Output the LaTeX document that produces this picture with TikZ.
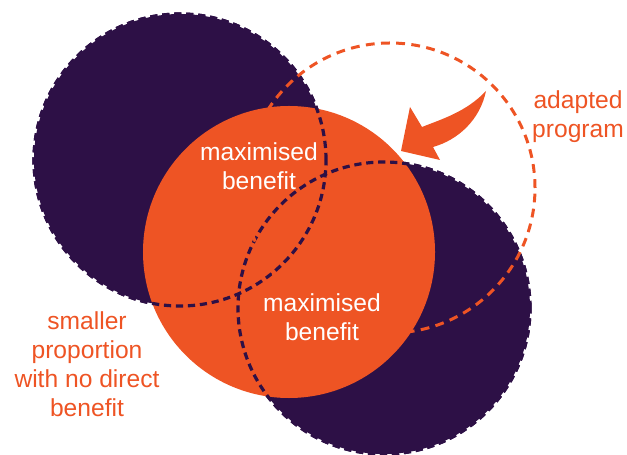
\documentclass[tikz,border=0pt]{standalone}
\usepackage{fontspec}
\setmainfont{Liberation Sans}
\definecolor{plum}{HTML}{2D1046}
\definecolor{ember}{HTML}{EE5424}
\tikzset{
    darkdisc/.style = {circle, inner sep=0pt, outer sep=0pt, minimum size=73mm, fill=plum, draw=plum, line width=0.8mm, dash pattern=on 1.8mm off 1.2mm},
    orangedisc/.style = {circle, inner sep=0pt, outer sep=0pt, minimum size=73mm, fill=ember},
    rim/.style = {draw=plum, line width=0.8mm, dash pattern=on 1.8mm off 1.2mm}, % edges seen over the orange
    planrim/.style = {draw=ember, line width=0.75mm, dash pattern=on 2.2mm off 1.6mm},
    intext/.style = {align=center, text=white, font=\fontsize{17.5}{20.5}\selectfont},
    outtext/.style = {align=center, text=ember, font=\fontsize{17.5}{20.5}\selectfont}
}

\begin{document}
\begin{tikzpicture}[x=0.25mm, y=-0.25mm]
  \useasboundingbox (0,0) rectangle (627,455);

  \node[darkdisc] (upper) at (180,160) {};
  \node[darkdisc] (lower) at (384,308) {};
  \node[orangedisc] (core) at (289,252) {};
  \coordinate (adapted) at (390,188);

  \draw[rim] (upper.center) circle[radius=36.5mm];
  \draw[rim] (lower.center) circle[radius=36.5mm];
  \draw[planrim] (adapted) circle[radius=36.25mm];

  % curved arrow into the orange disc
  \fill[ember] (486,91) .. controls (466,112) and (442,119) .. (422,127)
    -- (410,107) -- (401,151) -- (440,160) -- (433,147)
    .. controls (458,140) and (480,120) .. cycle;

  \node[intext] (gainA) at (259,166) {maximised\\benefit};
  \node[intext] (gainB) at (322,317) {maximised\\benefit};
  \node[outtext] (plan) at (578,117) {adapted\\program};
  \node[outtext] (rest) at (87,364) {smaller\\proportion\\with no direct\\benefit};
\end{tikzpicture}
\end{document}
